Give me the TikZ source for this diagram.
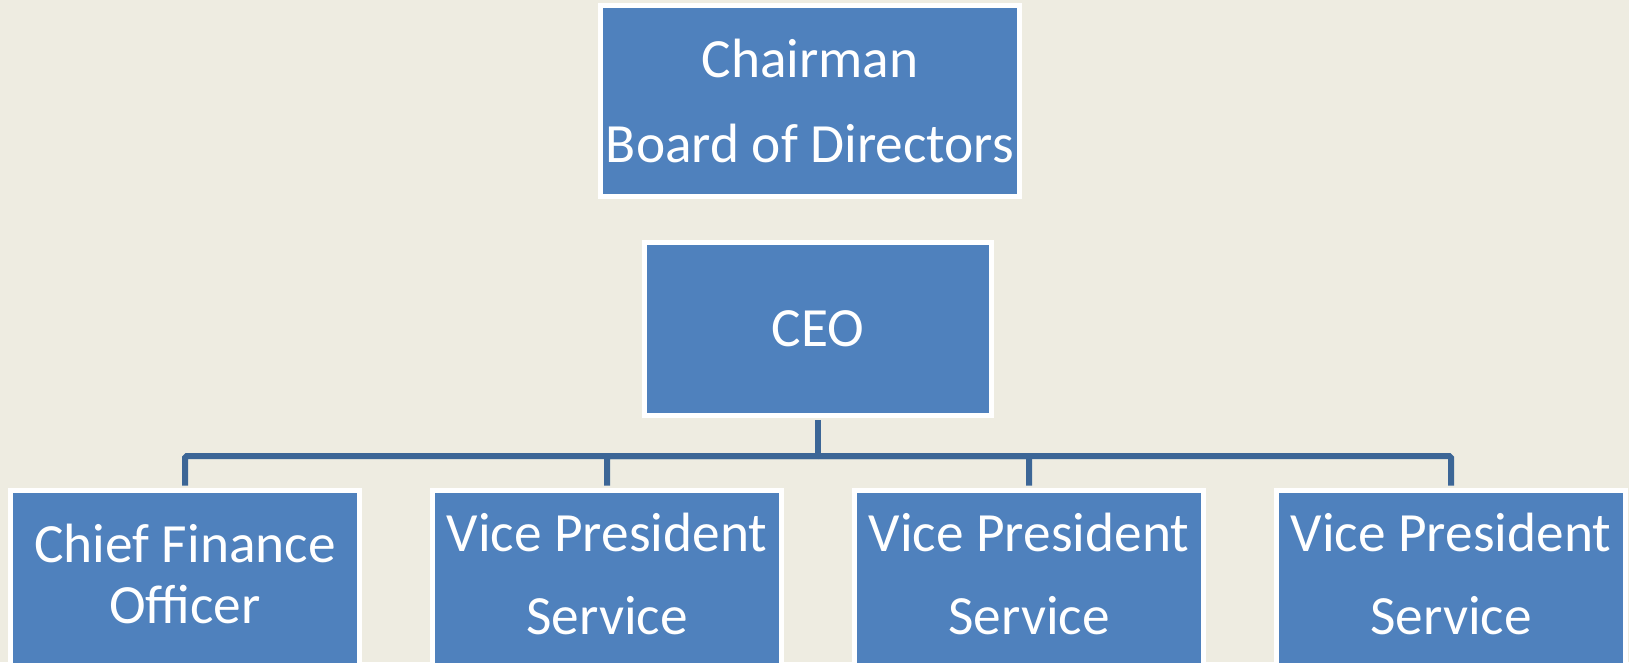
\documentclass[tikz,border=0pt]{standalone}
\usepackage{fontspec}
\setmainfont{Carlito}
\definecolor{slidebg}{HTML}{EEECE1}
\definecolor{boxblue}{HTML}{4F81BD}
\definecolor{linkblue}{HTML}{3C6696}
\def\bigtext#1{\fontsize{31.5}{#1}\selectfont}
\begin{document}
\begin{tikzpicture}[
  post/.style={draw=white,line width=0.1cm,fill=boxblue,text=white,align=center,inner sep=0pt},
  staff/.style={post,minimum width=6.98cm,minimum height=3.53cm,text depth=0.2cm,font=\bigtext{34.7pt}},
  link/.style={draw=linkblue,line width=0.12cm,rounded corners=1pt,shorten >=1.4pt,shorten <=1.4pt}]
  \fill[slidebg] (0,0) rectangle (32.58,13.24);
  \useasboundingbox (0,0) rectangle (32.58,13.24);
\node[post,minimum width=8.38cm,minimum height=3.82cm,font=\bigtext{48pt}] (chair) at (16.2,11.22) {Chairman\\Board of Directors};
\node[post,minimum width=6.94cm,minimum height=3.46cm,font=\bigtext{38pt}] (ceo) at (16.36,6.66) {CEO};
  \node[staff] (cfo) at (3.70,1.665) {Chief Finance\\Officer};
  \foreach \x/\n in {12.14/vpa,20.58/vpb,29.02/vpc}
    \node[staff] (\n) at (\x,1.665) {Vice President\\[12.4pt]Service};
\draw[link,shorten >=0pt] (ceo.south) -- ++(0,-0.76) coordinate (bus);
  \foreach \n in {cfo,vpa,vpb,vpc} \draw[link,shorten <=0pt] (bus) -| (\n.north);
\end{tikzpicture}
\end{document}
